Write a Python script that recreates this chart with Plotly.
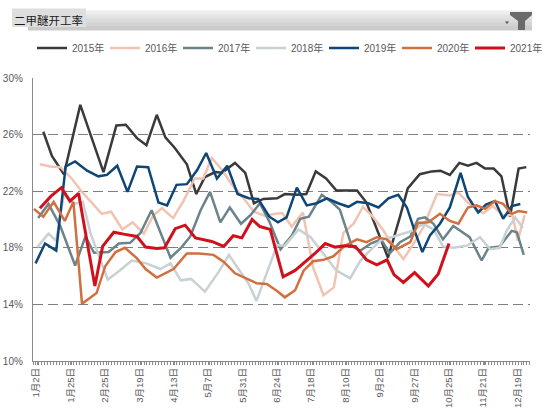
import plotly.graph_objects as go

# ---------------- data ----------------
date_labels = ["1月2日", "1月25日", "2月25日", "3月19日", "4月13日", "5月7日", "5月31日",
               "6月24日", "7月18日", "8月10日", "9月2日", "9月27日", "10月25日", "11月21日", "12月19日"]
label_every = 4  # categories between labels

series_names = ["2015年", "2016年", "2017年", "2018年", "2019年", "2020年", "2021年"]

x2015 = [0.7, 1.7, 3.1, 5.0, 7.7, 9.2, 10.3, 11.6, 12.7, 13.9, 14.9, 16.0, 17.4, 18.5, 19.5, 20.7, 21.5, 23.0,
         24.2, 25.2, 26.3, 27.9, 28.8, 30.2, 31.3, 32.4, 33.6, 34.8, 36.0, 37.2, 38.3, 39.5, 40.8, 42.2, 43.1,
         44.5, 45.9, 46.9, 48.0, 49.1, 50.1, 51.1, 52.1, 53.1, 54.0, 55.0, 56.0, 56.9]
y2015 = [26.2, 24.5, 23.2, 28.1, 23.35, 26.65, 26.7, 25.75, 25.25, 27.4, 25.8, 25.05, 23.9, 21.8, 23.0, 23.35, 23.3, 24.0,
         23.3, 21.15, 21.45, 21.5, 21.8, 21.75, 21.8, 23.4, 22.9, 22.05, 22.05, 22.05, 21.2, 19.35, 17.3, 20.2, 22.2,
         23.2, 23.4, 23.45, 23.15, 24.0, 23.8, 24.0, 23.6, 23.6, 23.05, 20.2, 23.6, 23.7]

x2016 = [0.3, 1.5, 2.7, 4.0, 5.2, 6.2, 7.5, 8.6, 9.9, 11.1, 12.4, 13.5, 14.5, 15.8, 17.0, 18.3, 19.3, 20.3, 21.5,
         22.6, 24.0, 25.2, 26.5, 27.7, 28.5, 29.6, 30.9, 32.1, 33.3, 34.5, 35.6, 36.8, 37.9, 39.1, 40.3, 41.2,
         42.6, 43.9, 44.9, 46.5, 48.0, 49.0, 50.1, 51.9, 53.0, 54.2, 55.3, 55.9, 56.7]
y2016 = [23.9, 23.75, 23.7, 22.9, 21.95, 21.25, 20.4, 20.55, 19.3, 19.8, 19.0, 20.3, 20.8, 20.1, 21.3, 22.9, 22.9, 24.35, 23.5,
         22.5, 21.5, 20.55, 20.25, 20.4, 20.45, 19.5, 20.5, 16.6, 14.65, 15.2, 19.05, 19.7, 20.9, 20.15, 19.2, 18.3,
         17.2, 18.4, 19.45, 21.8, 21.7, 21.9, 21.2, 20.45, 20.95, 20.3, 20.3, 18.5, 20.3]

x2017 = [0.1, 1.3, 2.7, 4.4, 5.6, 6.6, 8.3, 9.5, 10.8, 12.0, 13.3, 14.3, 15.5, 16.8, 17.8, 19.0, 20.1, 21.3, 22.4,
         23.7, 24.8, 25.9, 27.0, 28.3, 29.6, 30.6, 31.6, 33.1, 34.3, 35.2, 36.6, 37.6, 38.8, 40.0, 41.0, 42.2,
         43.4, 44.3, 45.1, 46.1, 47.2, 48.4, 49.4, 50.3, 51.7, 52.5, 53.8, 55.2, 55.8, 56.6]
y2017 = [20.1, 21.1, 19.5, 16.75, 18.8, 17.65, 17.7, 18.3, 18.35, 19.05, 20.65, 19.1, 17.3, 18.05, 18.8, 20.65, 21.95, 19.8, 20.85,
         19.7, 20.3, 21.15, 19.85, 17.9, 18.85, 20.05, 20.2, 21.75, 21.2, 20.7, 18.1, 17.8, 18.3, 18.6, 17.6, 18.4,
         18.8, 20.05, 20.15, 19.7, 18.6, 19.55, 19.1, 18.75, 17.1, 18.0, 18.1, 19.2, 19.1, 17.5]

x2018 = [0.0, 1.3, 2.2, 3.1, 4.3, 5.3, 6.2, 8.2, 9.6, 11.0, 12.7, 14.3, 15.5, 16.7, 17.9, 19.5, 21.1, 22.3, 23.4,
         24.6, 25.5, 26.7, 27.9, 28.8, 30.4, 31.8, 33.3, 34.8, 36.4, 37.6, 38.7, 40.1, 41.2, 42.6, 43.6, 44.9,
         46.1, 47.2, 48.4, 50.0, 51.5, 52.7, 53.8, 54.6, 55.6, 56.5]
y2018 = [18.05, 19.0, 18.5, 21.8, 21.1, 21.25, 19.0, 15.75, 16.4, 17.1, 16.9, 16.5, 16.9, 15.7, 15.8, 14.9, 16.3, 17.5, 16.5,
         15.45, 14.25, 16.3, 18.2, 18.15, 19.3, 18.75, 17.55, 16.4, 15.85, 17.1, 17.8, 18.6, 18.75, 19.0, 19.2, 19.7,
         19.3, 18.1, 18.0, 18.15, 18.75, 17.9, 18.0, 19.2, 20.15, 19.4]

x2019 = [-0.2, 0.9, 2.2, 3.3, 4.4, 5.8, 7.1, 8.1, 9.3, 10.5, 11.6, 12.9, 14.1, 15.1, 16.2, 17.4, 18.6, 19.65, 20.9,
         22.1, 23.3, 24.6, 25.7, 27.0, 28.0, 29.0, 30.2, 31.35, 32.5, 33.7, 35.0, 36.2, 37.2, 38.5, 39.7, 40.85,
         42.0, 43.0, 43.9, 44.8, 45.7, 46.85, 48.0, 49.25, 50.1, 51.3, 52.2, 53.25, 54.2, 55.2, 56.2]
y2019 = [16.9, 18.3, 17.8, 23.75, 24.1, 23.45, 23.05, 23.15, 23.8, 21.95, 23.75, 23.7, 21.2, 21.0, 22.45, 22.5, 23.5, 24.7, 22.9,
         23.8, 21.8, 21.5, 21.45, 20.2, 19.8, 20.15, 22.25, 21.0, 21.15, 21.5, 21.15, 20.9, 21.25, 21.15, 20.85, 21.5,
         21.75, 20.85, 19.2, 17.7, 18.9, 19.7, 20.85, 23.3, 21.6, 20.5, 21.05, 21.3, 20.05, 20.95, 21.1]

x2020 = [-0.4, 0.7, 1.9, 3.2, 4.2, 5.2, 6.9, 7.9, 9.1, 10.2, 11.6, 12.6, 13.9, 15.85, 17.4, 18.8, 20.5, 21.7, 23.0,
         24.4, 25.5, 26.7, 27.9, 28.8, 30.0, 31.0, 32.1, 33.3, 34.45, 35.8, 37.2, 38.3, 39.5, 40.65, 41.8, 43.4,
         44.3, 45.5, 46.85, 48.0, 49.0, 50.1, 51.1, 52.1, 53.25, 54.2, 55.2, 56.0, 57.0]
y2020 = [20.75, 20.2, 21.25, 19.9, 21.25, 14.05, 14.8, 16.7, 17.7, 18.0, 17.25, 16.5, 15.9, 16.5, 17.6, 17.6, 17.5, 17.0, 16.2,
         15.8, 15.5, 15.45, 14.95, 14.5, 15.0, 16.4, 17.05, 17.15, 17.4, 18.15, 18.6, 18.4, 18.75, 18.6, 17.9, 18.4,
         19.75, 19.8, 20.4, 19.9, 19.7, 20.85, 21.0, 20.75, 21.3, 21.1, 20.4, 20.6, 20.5]

x2021 = [0.3, 1.6, 2.8, 3.8, 4.8, 6.7, 7.6, 8.9, 10.2, 11.6, 12.6, 13.9, 14.8, 16.05, 17.2, 18.4, 20.3, 21.7, 22.8,
         23.8, 25.0, 25.9, 27.1, 28.6, 30.0, 31.35, 32.3, 33.5, 34.65, 35.8, 37.0, 38.3, 39.5, 40.7, 41.5, 42.6,
         43.9, 45.5, 46.65, 47.9]
y2021 = [20.8, 21.65, 22.25, 21.3, 21.85, 15.3, 18.1, 19.1, 18.95, 18.8, 18.05, 17.95, 18.0, 19.35, 19.6, 18.7, 18.45, 18.1, 18.85,
         18.7, 20.0, 19.5, 19.3, 15.95, 16.4, 17.1, 17.6, 18.3, 18.05, 18.15, 18.1, 17.15, 16.8, 17.15, 16.1, 15.55,
         16.25, 15.3, 16.15, 18.3]

series_x = [x2015, x2016, x2017, x2018, x2019, x2020, x2021]
series_y = [y2015, y2016, y2017, y2018, y2019, y2020, y2021]

y_min, y_max, y_step = 10, 30, 4

# ---------------- style ----------------
colors = ["#3a3a3a", "#f2c3b1", "#6b8489", "#c8d1d4", "#0d4677", "#d26f3f", "#d0111c"]
widths = [2.5, 2.5, 2.5, 2.5, 2.5, 2.5, 3]
FONT = "Liberation Sans, Arial, Noto Sans CJK SC, sans-serif"
W, H = 550, 412
L, R, T, B = 33, 530, 78, 361  # plot area in px


def px(x):
    return (x - L) / (R - L)


def py(y):
    return (B - y) / (B - T)


fig = go.Figure()
for name, xs, ys, c, w in zip(series_names, series_x, series_y, colors, widths):
    fig.add_trace(go.Scatter(x=xs, y=ys, name=name, mode="lines",
                             line=dict(color=c, width=w), hoverinfo="skip"))

shapes = []
# title bar (gradient imitation)
grad = ["#eeeeee", "#e4e4e4", "#dbdbdb", "#d3d3d3", "#cbcbcb"]
y0 = 10.5
step = 19.5 / len(grad)
for i, g in enumerate(grad):
    shapes.append(dict(type="rect", xref="paper", yref="paper", layer="below",
                       x0=px(28), x1=px(532), y0=py(y0 + i * step), y1=py(y0 + (i + 1) * step + 0.5),
                       fillcolor=g, line=dict(width=0)))
shapes.append(dict(type="rect", xref="paper", yref="paper", layer="below",
                   x0=px(12), x1=px(86), y0=py(8.5), y1=py(27),
                   fillcolor="#dedede", line=dict(width=0)))
# funnel icon
fun = [(510, 12), (532, 12), (532, 15), (525, 21), (525, 30), (518, 30), (518, 21), (510, 15)]
path = "M " + " L ".join(f"{px(a)},{py(b)}" for a, b in fun) + " Z"
shapes.append(dict(type="path", xref="paper", yref="paper", path=path,
                   fillcolor="#6a6a6a", line=dict(width=0)))
arr = [(505, 21.5), (509, 21.5), (507, 24)]
path2 = "M " + " L ".join(f"{px(a)},{py(b)}" for a, b in arr) + " Z"
shapes.append(dict(type="path", xref="paper", yref="paper", path=path2,
                   fillcolor="#555555", line=dict(width=0)))

annotations = [dict(text="二甲醚开工率", xref="paper", yref="paper", x=px(12), y=py(19.5),
                    xanchor="left", yanchor="middle", showarrow=False,
                    font=dict(family="Noto Sans CJK SC", size=11.5, color="#1a1a1a"))]

tickvals = [i * label_every for i in range(len(date_labels))]

fig.update_layout(
    width=W, height=H,
    margin=dict(l=L, r=W - R, t=T, b=H - B, autoexpand=False),
    paper_bgcolor="white", plot_bgcolor="white",
    font=dict(family=FONT, color="#595959", size=10),
    showlegend=True,
    hovermode=False,
    legend=dict(orientation="h", x=px(32), y=py(48), xanchor="left", yanchor="middle",
                font=dict(size=10, color="#595959"), itemwidth=30,
                entrywidth=28, entrywidthmode="pixels", tracegroupgap=0,
                bgcolor="rgba(0,0,0,0)"),
    shapes=shapes,
    annotations=annotations,
    xaxis=dict(range=[-0.5, (R - 37) / 8.6], tickmode="array", tickvals=tickvals, ticktext=date_labels,
               tickangle=-90, showgrid=False, zeroline=False, showline=True, linecolor="#8a8a8a",
               linewidth=1.3, ticks="outside", ticklen=3, tickcolor="#8a8a8a", automargin=False,
               ticklabelstandoff=-1, ticklabelshift=-1,
               tickfont=dict(size=9.5, color="#595959"),
               minor=dict(ticks="outside", ticklen=3, tickcolor="#8a8a8a", dtick=0.34, tick0=-0.5)),
    yaxis=dict(range=[y_min, y_max], tickmode="linear", tick0=y_min, dtick=y_step, automargin=False,
               ticksuffix="%", showgrid=True, gridcolor="#7f7f7f", gridwidth=1.2, griddash="10px,5px",
               zeroline=False, showline=True, linecolor="#8a8a8a", linewidth=1.3,
               ticks="", ticklabelstandoff=7, tickfont=dict(size=10, color="#595959")),
)

fig.write_html("out.html", config={"displayModeBar": False, "staticPlot": False},
               post_script="document.body.style.margin='0px';")
